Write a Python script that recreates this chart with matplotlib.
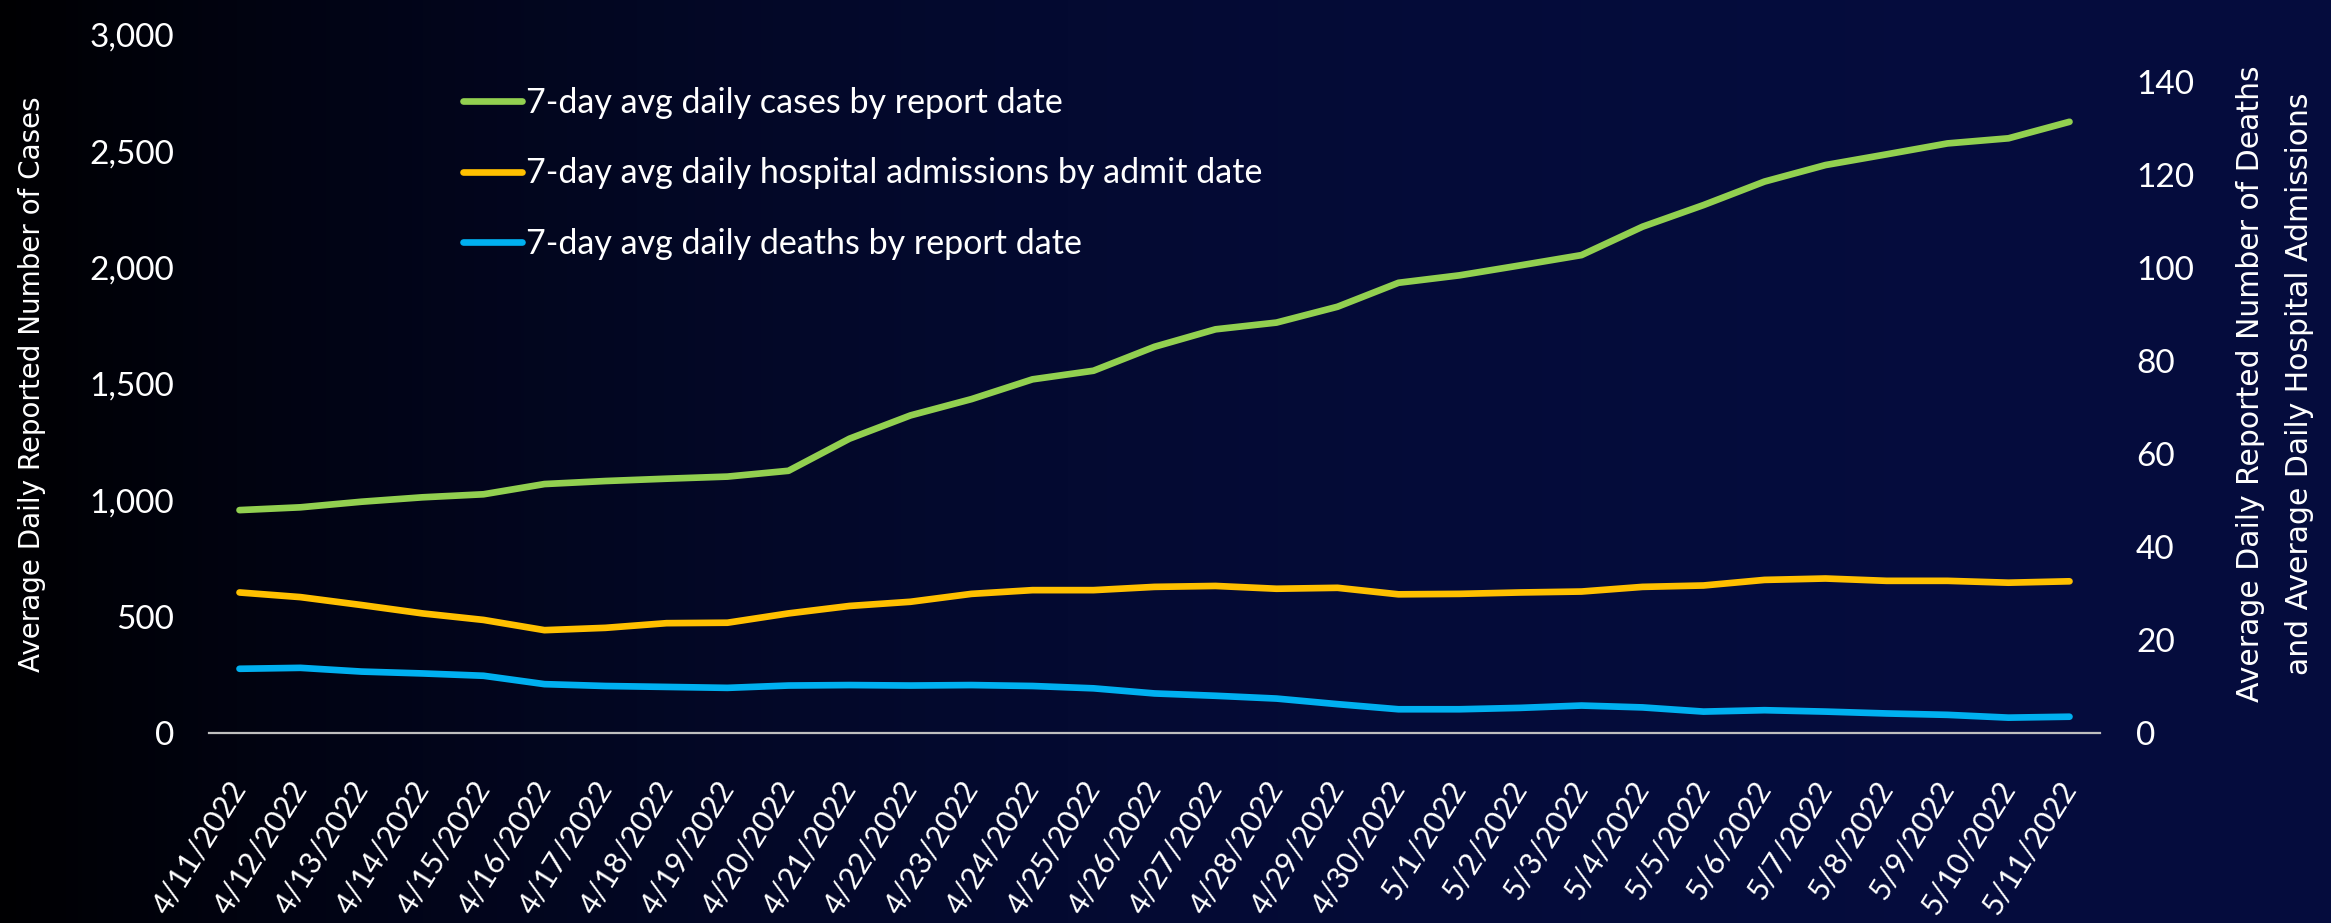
import numpy as np
import matplotlib
matplotlib.use("Agg")
import matplotlib.pyplot as plt
from matplotlib.ticker import FuncFormatter

dates = ['4/11/2022', '4/12/2022', '4/13/2022', '4/14/2022', '4/15/2022', '4/16/2022',
         '4/17/2022', '4/18/2022', '4/19/2022', '4/20/2022', '4/21/2022', '4/22/2022',
         '4/23/2022', '4/24/2022', '4/25/2022', '4/26/2022', '4/27/2022', '4/28/2022',
         '4/29/2022', '4/30/2022', '5/1/2022', '5/2/2022', '5/3/2022', '5/4/2022',
         '5/5/2022', '5/6/2022', '5/7/2022', '5/8/2022', '5/9/2022', '5/10/2022', '5/11/2022']

cases = [958, 970, 994, 1013, 1026, 1070, 1083, 1093, 1102, 1127, 1265, 1365, 1435, 1520,
         1557, 1660, 1735, 1764, 1832, 1935, 1967, 2010, 2054, 2176, 2269, 2370, 2441, 2487,
         2534, 2556, 2627]

hosp = [30.2, 29.2, 27.5, 25.7, 24.3, 22.1, 22.6, 23.6, 23.7, 25.7, 27.3, 28.2, 29.9, 30.7,
        30.7, 31.4, 31.6, 31.0, 31.2, 29.8, 29.9, 30.2, 30.4, 31.4, 31.7, 32.9, 33.2, 32.7,
        32.7, 32.3, 32.6]

deaths = [13.8, 14.0, 13.2, 12.8, 12.3, 10.5, 10.1, 9.9, 9.7, 10.2, 10.3, 10.2, 10.3, 10.1,
          9.6, 8.5, 8.0, 7.4, 6.2, 5.1, 5.1, 5.4, 5.9, 5.5, 4.6, 4.9, 4.6, 4.2, 3.9, 3.3, 3.5]

labels = ['7-day avg daily cases by report date',
          '7-day avg daily hospital admissions by admit date',
          '7-day avg daily deaths by report date']

W, H = 2331, 923
fig = plt.figure(figsize=(W / 100, H / 100), dpi=100)

# background gradient: black on the left, dark navy on the right
bg = fig.add_axes([0, 0, 1, 1])
t = np.linspace(0, 1, 600)
k = 1 - (1 - t) ** 2.5
grad = np.zeros((2, len(t), 3))
grad[:, :, 0] = 0.02 * k
grad[:, :, 1] = 0.05 * k
grad[:, :, 2] = 0.008 + 0.235 * k
bg.imshow(grad, aspect='auto', extent=[0, 1, 0, 1])
bg.set_axis_off()

tick_font = 'Lato'
title_font = 'DejaVu Sans'
white = 'white'

ax = fig.add_axes([209 / W, 190 / H, 1891 / W, 698 / H])
ax.set_facecolor('none')
ax2 = ax.twinx()

x = np.arange(len(dates))
l1, = ax.plot(x, cases, color='#92D050', lw=4.8, solid_capstyle='round', solid_joinstyle='round')
l2, = ax2.plot(x, hosp, color='#FFC000', lw=4.8, solid_capstyle='round', solid_joinstyle='round')
l3, = ax2.plot(x, deaths, color='#00B0F0', lw=4.8, solid_capstyle='round', solid_joinstyle='round')

ax.set_xlim(-0.5, len(dates) - 0.5)
ax.set_ylim(0, 3000)
ax2.set_ylim(0, 150)
ax.set_yticks(np.arange(0, 3001, 500))
ax2.set_yticks(np.arange(0, 141, 20))
ax.yaxis.set_major_formatter(FuncFormatter(lambda v, p: f'{int(v):,}'))

ax.set_xticks(x)
ax.set_xticklabels(dates, rotation=58, ha='right', va='center', rotation_mode='anchor',
                   fontfamily=tick_font, fontsize=22, color=white)
ax.tick_params(axis='x', length=0, pad=36)
ax.tick_params(axis='y', length=0, pad=25, labelsize=24, labelcolor=white)
ax2.tick_params(axis='y', length=0, pad=26, labelsize=24, labelcolor=white)
for lab in ax.get_yticklabels() + ax2.get_yticklabels():
    lab.set_fontfamily(tick_font)

for a in (ax, ax2):
    for s in ('top', 'left', 'right', 'bottom'):
        a.spines[s].set_visible(False)
ax.spines['bottom'].set_visible(True)
ax.spines['bottom'].set_color('#BFBFBF')
ax.spines['bottom'].set_linewidth(1.6)

ax.set_ylabel('Average Daily Reported Number of Cases', fontfamily=title_font,
              fontsize=20, color=white, va='center')
ax.yaxis.set_label_coords((32 - 209) / 1891, 0.5)
ax2.set_ylabel('Average Daily Reported Number of Deaths\nand Average Daily Hospital Admissions',
               fontfamily=title_font, fontsize=21.5, color=white, va='center', ha='center',
               rotation=90, linespacing=1.85)
ax2.yaxis.set_label_coords((2275 - 209) / 1891, 0.5)

leg = fig.legend([l1, l2, l3], labels, loc='upper left',
                 bbox_to_anchor=(463 / W, 1 - 87 / H), bbox_transform=fig.transFigure,
                 frameon=False, borderpad=0, borderaxespad=0, handlelength=1.74,
                 handletextpad=0.1, labelspacing=1.13,
                 prop={'family': tick_font, 'size': 24.5})
for txt in leg.get_texts():
    txt.set_color(white)

fig.savefig('out.png', dpi=100)
